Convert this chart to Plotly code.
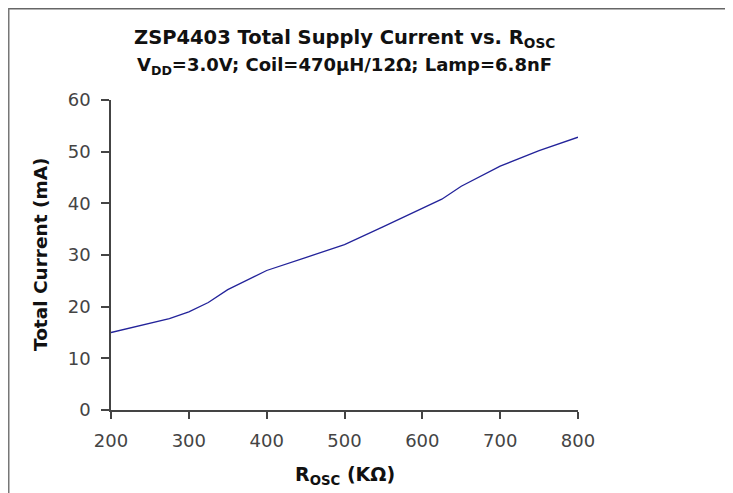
import plotly.graph_objects as go

r_osc = [200, 250, 275, 300, 325, 350, 400, 450, 500, 550, 600, 625, 650, 700, 750, 800]
current_ma = [15.0, 16.8, 17.7, 19.0, 20.8, 23.3, 27.0, 29.5, 32.0, 35.5, 39.0, 40.8, 43.3, 47.2, 50.2, 52.8]

x_ticks = [200, 300, 400, 500, 600, 700, 800]
y_ticks = [0, 10, 20, 30, 40, 50, 60]

title_line1 = "ZSP4403 Total Supply Current vs. R<sub>OSC</sub>"
title_line2 = "V<sub>DD</sub>=3.0V; Coil=470µH/12Ω; Lamp=6.8nF"
x_title = "R<sub>OSC</sub> (KΩ)"
y_title = "Total Current (mA)"

# plot area in figure pixels (page has an 8px body offset)
L, T, R, B = 103, 92, 570, 402
W, H = 733, 493
PW, PH = R - L, B - T

def px(xp):
    return (xp - L) / PW

def py(yp):
    return (B - yp) / PH

fig = go.Figure()
fig.add_trace(go.Scatter(
    x=r_osc, y=current_ma, mode="lines",
    line=dict(color="#23239a", width=1.3),
    showlegend=False,
))

tick_font = dict(family="DejaVu Sans, Verdana, sans-serif", size=18, color="#444444")
bold_family = "DejaVu Sans, Verdana, sans-serif"

fig.update_layout(
    width=W, height=H,
    margin=dict(l=L, r=W - R, t=T, b=H - B),
    paper_bgcolor="white", plot_bgcolor="white",
    xaxis=dict(
        range=[200, 800], tickvals=x_ticks, ticks="outside", ticklen=7,
        tickwidth=1.5, tickcolor="#444444", ticklabelstandoff=7,
        showline=True, linecolor="#444444", linewidth=1.5,
        showgrid=False, zeroline=False, tickfont=tick_font,
    ),
    yaxis=dict(
        range=[0, 60], tickvals=y_ticks, ticks="outside", ticklen=8,
        tickwidth=1.5, tickcolor="#444444", ticklabelstandoff=7,
        showline=True, linecolor="#444444", linewidth=1.5,
        showgrid=False, zeroline=False, tickfont=tick_font,
    ),
    annotations=[
        dict(text="<b>" + title_line1 + "</b>", xref="paper", yref="paper",
             x=px((L + R) / 2), y=py(30), xanchor="center", yanchor="middle",
             showarrow=False,
             font=dict(family=bold_family, size=19.5, color="#111111")),
        dict(text="<b>" + title_line2 + "</b>", xref="paper", yref="paper",
             x=px((L + R) / 2), y=py(58), xanchor="center", yanchor="middle",
             showarrow=False,
             font=dict(family=bold_family, size=18, color="#111111")),
        dict(text="<b>" + x_title + "</b>", xref="paper", yref="paper",
             x=px((L + R) / 2), y=py(467), xanchor="center", yanchor="middle",
             showarrow=False,
             font=dict(family=bold_family, size=19, color="#111111")),
        dict(text="<b>" + y_title + "</b>", xref="paper", yref="paper",
             x=px(32), y=py((T + B) / 2), xanchor="center", yanchor="middle",
             textangle=-90, showarrow=False,
             font=dict(family=bold_family, size=18.5, color="#111111")),
    ],
    shapes=[
        dict(type="line", xref="paper", yref="paper",
             x0=px(0), x1=px(W), y0=py(0.5), y1=py(0.5),
             line=dict(color="#666666", width=2)),
        dict(type="line", xref="paper", yref="paper",
             x0=px(0.5), x1=px(0.5), y0=py(0), y1=py(H),
             line=dict(color="#777777", width=2)),
    ],
)

fig.write_html("out.html")
